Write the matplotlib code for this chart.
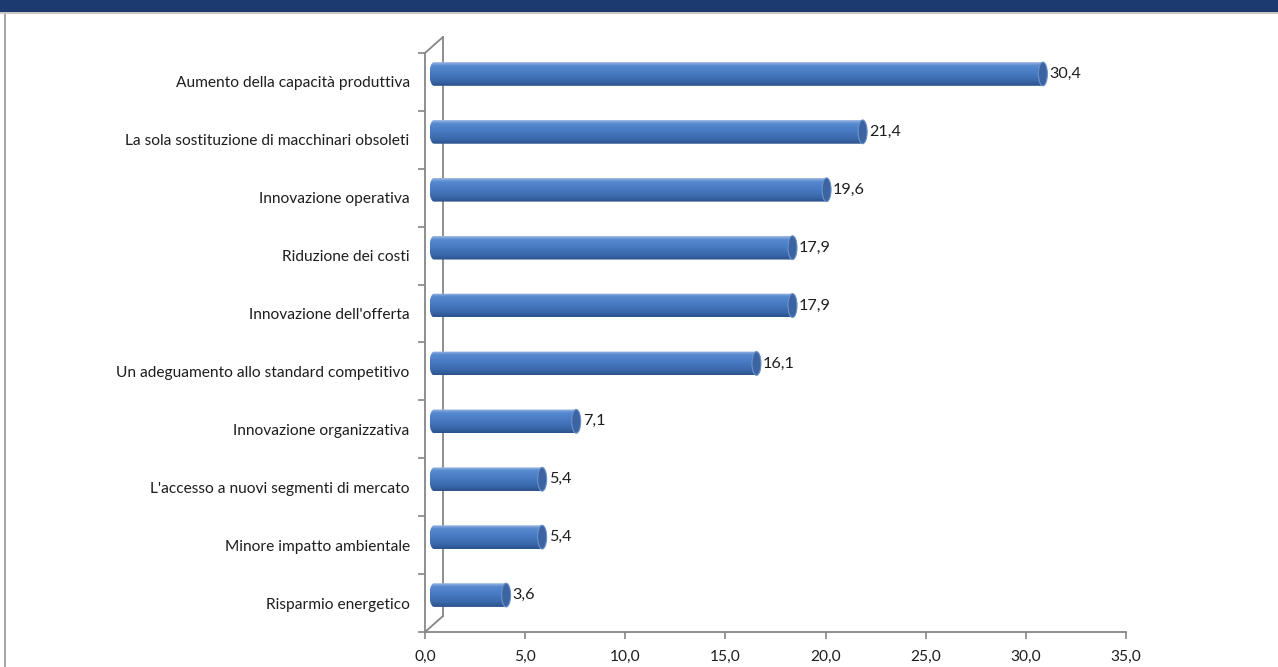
import numpy as np
import matplotlib.pyplot as plt
from matplotlib.patches import Rectangle, Ellipse, PathPatch, ConnectionPatch
from matplotlib.path import Path
from matplotlib.colors import LinearSegmentedColormap
from matplotlib.ticker import FuncFormatter

plt.rcParams['font.family'] = ['Lato', 'DejaVu Sans']

categories = [
    "Aumento della capacità produttiva",
    "La sola sostituzione di macchinari obsoleti",
    "Innovazione operativa",
    "Riduzione dei costi",
    "Innovazione dell'offerta",
    "Un adeguamento allo standard competitivo",
    "Innovazione organizzativa",
    "L'accesso a nuovi segmenti di mercato",
    "Minore impatto ambientale",
    "Risparmio energetico",
]
values = [30.4, 21.4, 19.6, 17.9, 17.9, 16.1, 7.1, 5.4, 5.4, 3.6]
xticks = [0, 5, 10, 15, 20, 25, 30, 35]

W, H = 1278, 667
fig = plt.figure(figsize=(W / 100, H / 100), dpi=100)

# header band and frame
fig.patches.append(Rectangle((0, (H - 12) / H), 1, 12 / H, transform=fig.transFigure,
                             facecolor='#1c3a6f', edgecolor='none'))
fig.patches.append(Rectangle((0, (H - 14) / H), 1, 2 / H, transform=fig.transFigure,
                             facecolor='#c8c8c8', edgecolor='none'))
fig.patches.append(Rectangle((3.5 / W, 0), 2 / W, (H - 14) / H, transform=fig.transFigure,
                             facecolor='#a6a6a6', edgecolor='none'))

x0, x1, yb, yt = 425, 1126, 632, 53
dx, dy = 9, 8  # half depth of the 3d plot
rect = [x0 / W, (H - yb) / H, (x1 - x0) / W, (yb - yt) / H]

def shifted(r, k):
    return [r[0] + k * dx / W, r[1] + k * dy / H, r[2], r[3]]

n = len(categories)
ypos = np.arange(n)[::-1]
ylim = (-0.5, n - 0.5)
xlim = (0, 35)
axis_col = '#868686'
txt_col = '#1e1e1e'
fs = 11.2

# back wall
ax_w = fig.add_axes(shifted(rect, 2))
ax_w.set_xlim(xlim)
ax_w.set_ylim(ylim)
ax_w.axis('off')
ax_w.plot([0, 0], [ylim[0], ylim[1]], color=axis_col, lw=1.3, clip_on=False)

# front axes with labels
ax = fig.add_axes(rect, zorder=1)
ax.patch.set_alpha(0)
ax.set_xlim(xlim)
ax.set_ylim(ylim)
for s in ['top', 'right']:
    ax.spines[s].set_visible(False)
for s in ['left', 'bottom']:
    ax.spines[s].set_color(axis_col)
    ax.spines[s].set_linewidth(1.3)
ax.set_yticks(ypos)
ax.set_yticklabels(categories, fontsize=fs, color=txt_col)
ax.set_yticks(np.arange(n + 1) - 0.5, minor=True)
ax.tick_params(axis='y', which='major', length=0, pad=11)
ax.tick_params(axis='y', which='minor', length=5, color=axis_col, width=1.2)
ax.set_xticks(xticks)
ax.xaxis.set_major_formatter(FuncFormatter(lambda v, p: f"{v:.1f}".replace('.', ',')))
ax.tick_params(axis='x', length=5, color=axis_col, width=1.2, labelsize=fs,
               labelcolor=txt_col, pad=8)

for yy in ylim:
    con = ConnectionPatch(xyA=(0, yy), coordsA=ax.transData, xyB=(0, yy), coordsB=ax_w.transData,
                          color=axis_col, lw=1.3)
    fig.add_artist(con)

# cylinders
ax_b = fig.add_axes(shifted(rect, 1), zorder=2)
ax_b.set_xlim(xlim)
ax_b.set_ylim(ylim)
ax_b.axis('off')

cmap = LinearSegmentedColormap.from_list('cyl', [
    (0.0, '#2b538b'), (0.2, '#3a67aa'), (0.55, '#487bc3'), (0.85, '#5589cf'),
    (0.94, '#7ca1da'), (1.0, '#a3bee6')])
grad = np.linspace(0, 1, 64).reshape(-1, 1)
h = 0.41
rx = 4.5 / ((x1 - x0) / 35)
t = np.linspace(np.pi / 2, -np.pi / 2, 40)

for v, y in zip(values, ypos):
    top, bot = y + h / 2, y - h / 2
    right = np.column_stack([v + rx * np.cos(t), y + h / 2 * np.sin(t)])
    left = np.column_stack([-rx * np.cos(t), y - h / 2 * np.sin(t)])
    verts = np.vstack([right, left, right[:1]])
    shape = PathPatch(Path(verts), facecolor='none', edgecolor='none', transform=ax_b.transData)
    ax_b.add_patch(shape)
    im = ax_b.imshow(grad, extent=(-rx, v + rx, bot, top), origin='lower', cmap=cmap,
                     aspect='auto', interpolation='bilinear', zorder=2)
    im.set_clip_box(fig.bbox)
    im.set_clip_path(shape)
    ax_b.add_patch(Ellipse((v, y), 2 * rx, h, facecolor='#3c64a3', edgecolor='#6b93c8',
                           lw=0.8, zorder=3))
    ax_b.text(v + rx + 0.1, y, f"{v:.1f}".replace('.', ','), va='center', ha='left',
              fontsize=fs + 0.4, color=txt_col, zorder=4)

ax_b.set_xlim(xlim)
ax_b.set_ylim(ylim)

fig.savefig('out.png', dpi=100)
